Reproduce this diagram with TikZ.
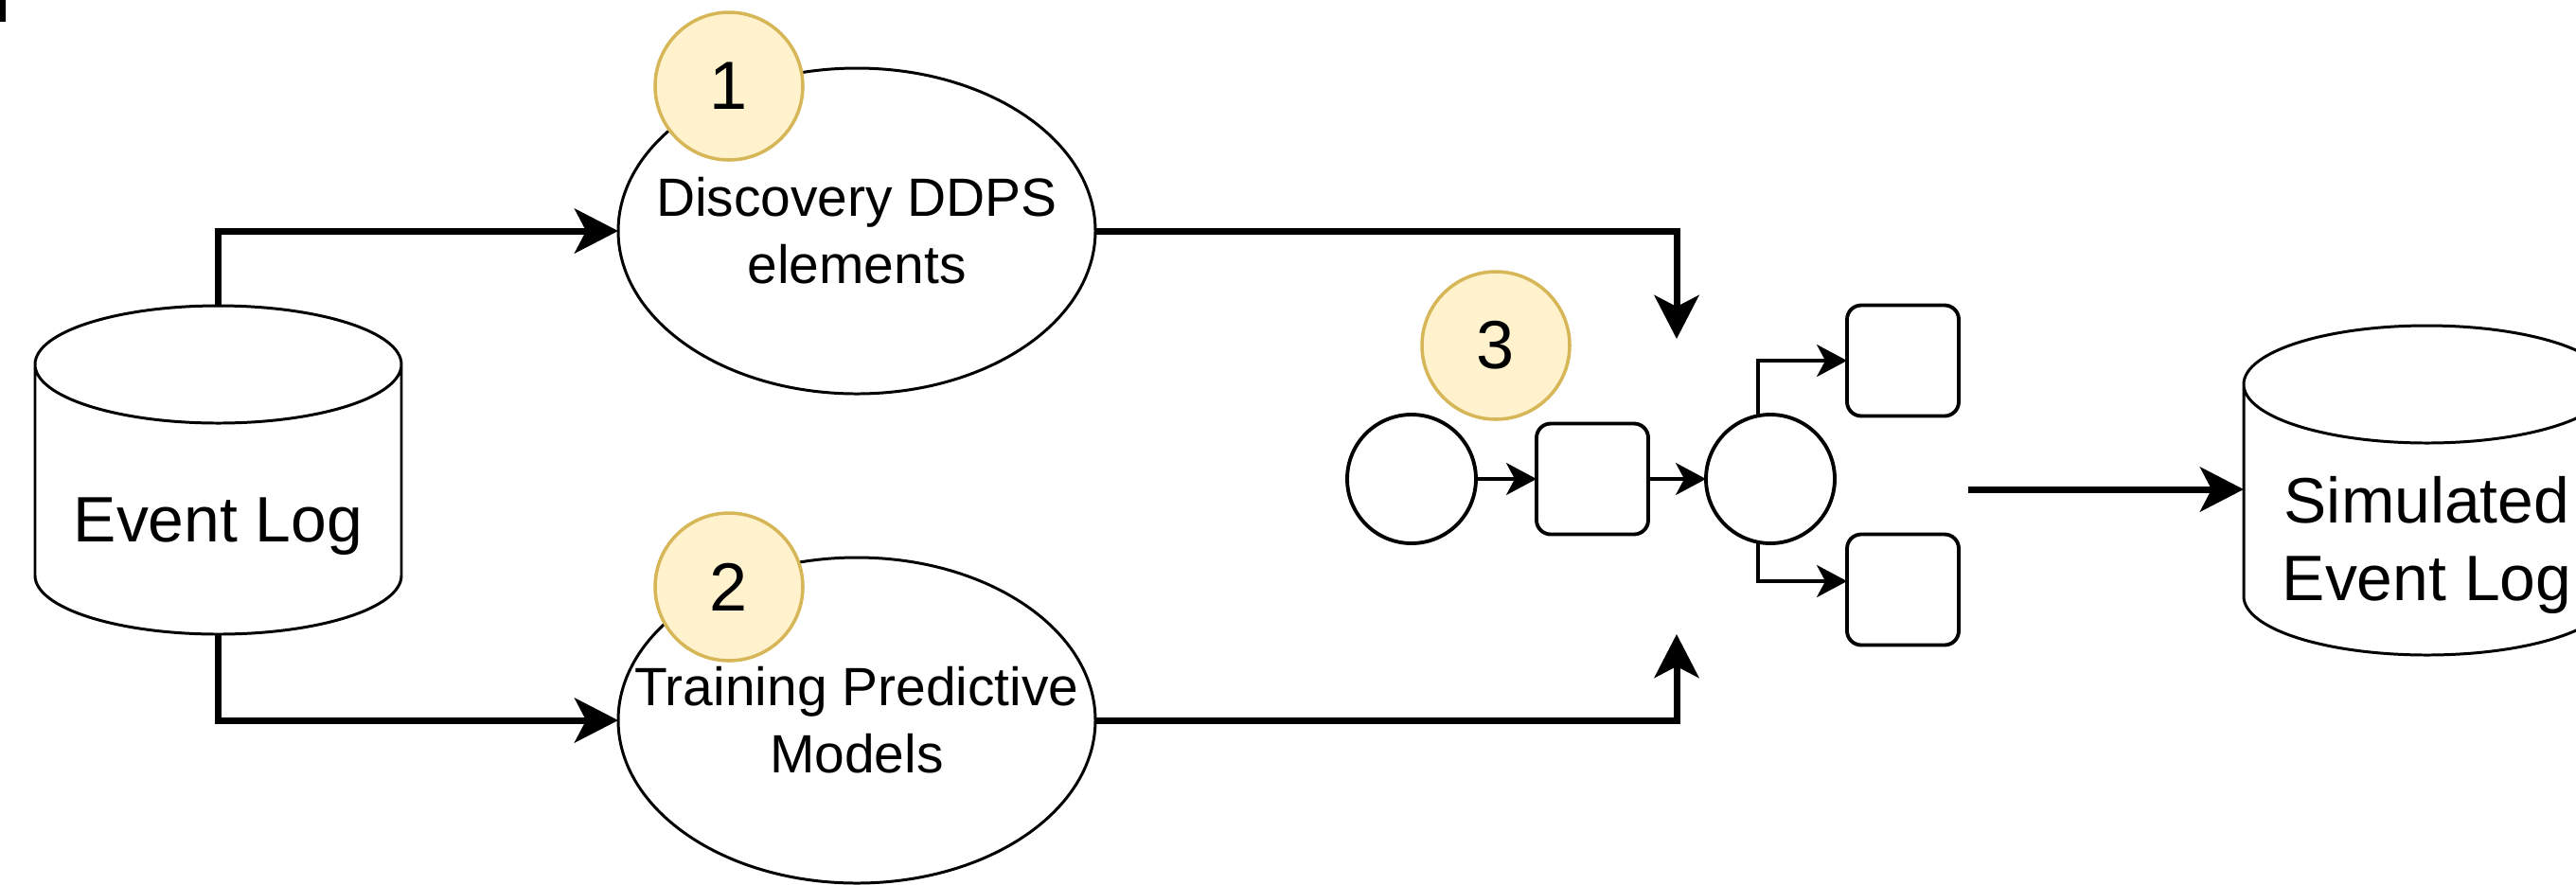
\documentclass[tikz,border=0pt]{standalone}
\usepackage{fontspec}
\setmainfont{Liberation Sans}
\usetikzlibrary{shapes.geometric,arrows.meta,positioning}

\definecolor{badgefill}{HTML}{FFF2CC}
\definecolor{badgeline}{HTML}{D6B656}

\begin{document}
\begin{tikzpicture}[
  line width=0.85pt,
  store/.style={minimum width=3.87cm, inner sep=0pt, outer sep=0pt},
  task/.style={ellipse, draw, minimum width=5.04cm, minimum height=3.44cm, inner sep=0pt, outer sep=0pt},
  badge/.style={circle, draw=badgeline, fill=badgefill, line width=1pt, minimum size=1.56cm, inner sep=0pt, font=\fontsize{20.5}{20.5}\selectfont},
  place/.style={circle, draw, line width=1.1pt, minimum size=1.36cm, inner sep=0pt, outer sep=0pt},
  act/.style={draw, rounded corners=0.15cm, line width=1.1pt, minimum width=1.18cm, minimum height=1.17cm, inner sep=0pt, outer sep=0pt},
  flow/.style={-{Stealth[length=0.46cm, width=0.47cm, inset=0.12cm]}, line width=2pt},
  link/.style={-{Stealth[length=0.32cm, width=0.34cm, inset=0.09cm]}, line width=0.95pt},
  big/.style={font=\fontsize{19.3}{23.3}\selectfont, align=center},
  small/.style={font=\fontsize{16.2}{20.2}\selectfont, align=center}
]
  \useasboundingbox (0,0) rectangle (27.21,-9.34);
  \fill (0,0) rectangle (0.06,-0.23);

  \node[store, minimum height=3.47cm, label={[big, yshift=-0.595cm]center:Event Log}] (log) at (2.305,-4.965) {};
  \node[task, label={[small]center:Discovery DDPS\\elements}] (disc) at (9.05,-2.44) {};
  \node[task, label={[small]center:Training Predictive\\Models}] (train) at (9.05,-7.61) {};

  \node[badge] (b1) at (7.70,-0.91) {1};
  \node[badge] (b2) at (7.70,-6.20) {2};
  \node[badge] (b3) at (15.80,-3.65) {3};

  % small process model
  \node[place] (p1) at (14.91,-5.06) {};
  \node[act, right=0.64cm of p1] (t1) {};
  \node[place, right=0.61cm of t1] (p2) {};
  \node[act] (t2) at (20.10,-3.81) {};
  \node[act] (t3) at (20.10,-6.23) {};

  \coordinate (jtop) at (17.71,-3.58);
  \coordinate (jbot) at (17.71,-6.70);
  \coordinate (out) at (20.79,-5.17);

  \node[store, minimum height=3.48cm, label={[big, yshift=-0.58cm]center:Simulated\\Event Log}] (sim) at (25.635,-5.18) {};

  \foreach \n in {log,sim}
    \draw ([yshift=-0.62cm]\n.north west) arc[start angle=180, end angle=-180, x radius=1.935cm, y radius=0.62cm]
      -- ([yshift=0.62cm]\n.south west) arc[start angle=180, end angle=360, x radius=1.935cm, y radius=0.62cm]
      -- ([yshift=-0.62cm]\n.north east);

  \draw[flow] (log.north) |- (disc.west);
  \draw[flow] (log.south) |- (train.west);
  \draw[flow] (disc.east) -| (jtop);
  \draw[flow] (train.east) -| (jbot);
  \draw[link] (p1) -- (t1);
  \draw[link] (t1) -- (p2);
  \draw[link] ([xshift=-0.13cm]p2.north) |- (t2.west);
  \draw[link] ([xshift=-0.13cm]p2.south) |- ([yshift=0.09cm]t3.west);
  \draw[flow] (out) -- (sim.west |- out);
\end{tikzpicture}
\end{document}
